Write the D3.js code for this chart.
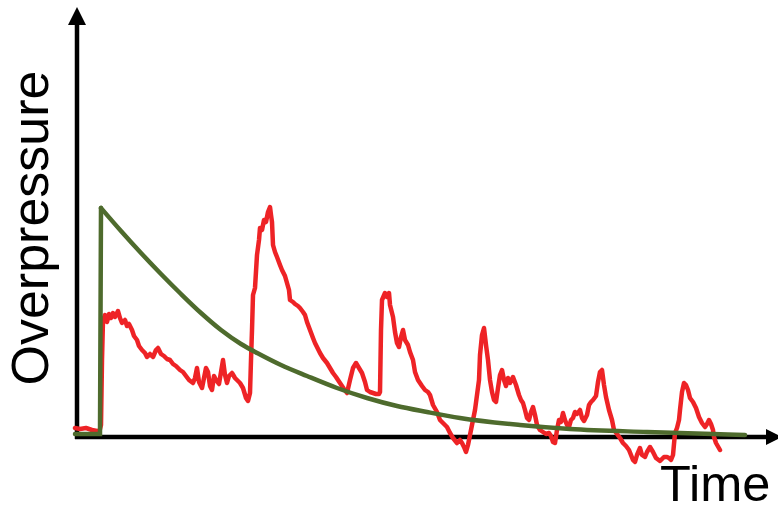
<!DOCTYPE html>
<html>
<head>
<meta charset="utf-8">
<script src="https://cdn.jsdelivr.net/npm/d3@7"></script>
<style>
  html, body { margin: 0; padding: 0; background: #fff; }
  svg { display: block; }
  text { font-family: "Liberation Sans", Arial, sans-serif; fill: #000; }
</style>
</head>
<body>
<svg id="chart" width="778" height="506"></svg>
<script>
// Measured blast overpressure (arbitrary units): time and pressure samples
const measuredTime = [-2,3,9,15,20,22,24,25,26,28,30,32,34,36,38,41,43,45,48,50,52,55,57,60,62,65,68,70,73,76,79,81,84,87,90,93,96,99,103,106,109,112,116,118,120,122,125,127,129,131,133,135,137,139,142,144,146,148,150,152,155,158,161,163,166,169,171,173,174,175,176,178,180,182,183,185,187,189,191,193,194,195,196,198,200,203,205,208,210,212,213,216,218,221,223,226,228,230,233,236,238,241,243,246,250,253,256,259,263,267,270,273,276,279,282,285,288,290,293,296,299,302,303,304,305,308,310,312,313,316,318,320,322,324,326,328,331,333,336,338,341,345,348,351,353,356,360,363,366,370,373,376,380,383,385,387,389,391,394,396,398,400,402,403,405,407,409,411,413,415,417,419,421,423,425,427,429,431,433,436,439,442,444,446,448,450,452,454,456,458,460,463,466,469,472,474,476,478,480,482,484,486,488,490,492,494,496,498,500,503,505,507,510,512,514,516,519,521,523,525,527,529,532,535,537,540,543,546,549,552,554,556,558,560,563,565,568,570,573,576,579,583,587,590,592,594,596,598,600,602,603,605,607,609,611,613,616,619,622,625,628,630,632,634,636,637,639,643];
const measuredPressure = [9,8,9,7,6,4,12,77,117,122,115,123,119,124,120,126,119,114,117,111,113,107,101,97,91,87,84,80,83,80,87,89,83,81,78,77,73,71,67,65,61,57,54,59,69,55,49,59,69,65,51,47,61,57,53,65,77,62,54,61,64,59,56,54,49,39,36,44,77,107,142,149,182,197,209,207,217,215,225,230,222,215,192,185,180,172,167,161,154,147,137,135,133,131,129,125,122,115,107,99,94,88,84,79,74,69,64,60,54,48,44,57,69,74,69,64,55,47,45,44,43,43,45,107,137,144,140,144,132,120,105,94,90,100,107,97,92,85,77,65,57,51,47,45,42,32,25,17,14,10,4,-1,-6,-3,-6,-10,-15,-8,7,17,27,42,57,82,102,109,92,77,57,45,37,35,49,62,67,57,51,59,54,60,52,42,37,34,27,19,17,25,30,22,12,7,5,3,4,1,-5,-6,7,17,15,24,17,12,10,17,19,25,23,27,19,16,22,32,35,37,41,55,65,67,52,40,27,17,7,3,-1,-6,-9,-13,-18,-23,-25,-18,-11,-18,-20,-15,-10,-15,-21,-24,-20,-20,-21,-23,-18,4,9,17,27,45,54,52,47,39,35,29,20,14,10,13,17,13,7,0,-6,-13,-10,-9];

// Idealised waveform (arbitrary units): baseline and instantaneous rise ...
const riseTime = [-2, 23, 24];
const risePressure = [3, 3, 229];
// ... followed by the decay
const decayTime = [24,44,64,84,104,124,144,164,184,204,230,260,290,320,350,383,443,493,570,636,668];
const decayPressure = [229,206,184,163,143,124,107,93,82,72,61,49,39,31,25,19,12,8,5,3,2];

// Axis titles
const yTitle = "Overpressure";
const xTitle = "Time";

const svg = d3.select("#chart");

const x = d3.scaleLinear().domain([0, 700]).range([77, 777]);
const y = d3.scaleLinear().domain([0, 427]).range([437, 10]);

// Axes with arrowheads
const axes = svg.append("g");
axes.append("line")
  .attr("x1", x(0)).attr("y1", y(-2))
  .attr("x2", x(0)).attr("y2", y(412))
  .attr("stroke", "#000").attr("stroke-width", 4.5);
axes.append("path")
  .attr("d", d3.line()([[x(0), y(430)], [x(0) - 9, y(412)], [x(0) + 9, y(412)]]))
  .attr("fill", "#000");
axes.append("line")
  .attr("x1", x(-2)).attr("y1", y(0))
  .attr("x2", x(690)).attr("y2", y(0))
  .attr("stroke", "#000").attr("stroke-width", 4.5);
axes.append("path")
  .attr("d", d3.line()([[x(705), y(0)], [x(689), y(8)], [x(689), y(-8)]]))
  .attr("fill", "#000");

const line = d3.line().x(d => x(d[0])).y(d => y(d[1]));

// Measured trace
svg.append("path")
  .datum(d3.zip(measuredTime, measuredPressure))
  .attr("d", line)
  .attr("fill", "none")
  .attr("stroke", "#ee2326")
  .attr("stroke-width", 4.5)
  .attr("stroke-linejoin", "round")
  .attr("stroke-linecap", "round");

// Ideal curve on top
const green = "#4e6b2d";
svg.append("path")
  .datum(d3.zip(riseTime, risePressure))
  .attr("d", line)
  .attr("fill", "none")
  .attr("stroke", green)
  .attr("stroke-width", 4.5)
  .attr("stroke-linejoin", "miter")
  .attr("stroke-linecap", "round");
svg.append("path")
  .datum(d3.zip(decayTime, decayPressure))
  .attr("d", d3.line().x(d => x(d[0])).y(d => y(d[1])).curve(d3.curveMonotoneX))
  .attr("fill", "none")
  .attr("stroke", green)
  .attr("stroke-width", 4.5)
  .attr("stroke-linecap", "round");

// Titles
svg.append("text")
  .attr("transform", `translate(48, 228) rotate(-90)`)
  .attr("text-anchor", "middle")
  .attr("font-size", 52)
  .text(yTitle);

svg.append("text")
  .attr("x", 660)
  .attr("y", 501)
  .attr("font-size", 50.5)
  .text(xTitle);
</script>
</body>
</html>
